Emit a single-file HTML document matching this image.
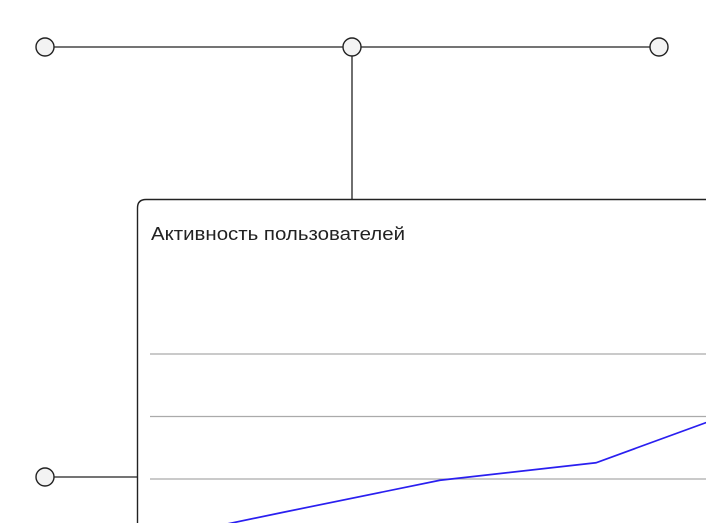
<!DOCTYPE html>
<html><head><meta charset="utf-8"><style>
html,body{margin:0;padding:0;background:#fff;width:706px;height:523px;overflow:hidden}
svg{display:block}
</style></head><body>
<svg width="706" height="523" viewBox="0 0 706 523">
<g stroke="#222" stroke-width="1.3" fill="none">
<line x1="54" y1="47" x2="343" y2="47"/>
<line x1="361" y1="47" x2="650" y2="47"/>
<line x1="352" y1="56" x2="352" y2="200"/>
<line x1="54" y1="477" x2="137" y2="477"/>
</g>
<g fill="#f3f3f3" stroke="#222" stroke-width="1.4">
<circle cx="45" cy="47" r="9"/>
<circle cx="352" cy="47" r="9"/>
<circle cx="659" cy="47" r="9"/>
<circle cx="45" cy="477" r="9"/>
</g>
<path d="M137.5 530 V208 Q137.5 199.5 146 199.5 H710" fill="#fff" stroke="#222" stroke-width="1.4"/>
<text x="151" y="240" font-family="Liberation Sans, sans-serif" font-size="18" fill="#222" textLength="254" lengthAdjust="spacingAndGlyphs">Активность пользователей</text>
<g id="grid"></g>
<g id="series"></g>
</svg>
<script>
const gridValues = [100, 200, 300];
const categories = ["P1", "P2", "P3", "P4", "P5"];
const seriesValues = [-5, 47, 98, 126, 217];
function yScale(v){ return 541.5 - 0.625 * v; }
function xScale(i){ return 128 + 156 * i; }
const NS = "http://www.w3.org/2000/svg";
const grid = document.getElementById("grid");
gridValues.forEach(v => {
  const l = document.createElementNS(NS, "line");
  l.setAttribute("x1", 150); l.setAttribute("x2", 706);
  l.setAttribute("y1", yScale(v)); l.setAttribute("y2", yScale(v));
  l.setAttribute("stroke", "#aaa"); l.setAttribute("stroke-width", "1.2");
  
  
  grid.appendChild(l);
});
const series = document.getElementById("series");
const p = document.createElementNS(NS, "polyline");
p.setAttribute("points", seriesValues.map((v, i) => xScale(i) + "," + yScale(v)).join(" "));
p.setAttribute("fill", "none"); p.setAttribute("stroke", "#2a1ff0"); p.setAttribute("stroke-width", "1.7");


series.appendChild(p);
</script>
</body></html>
